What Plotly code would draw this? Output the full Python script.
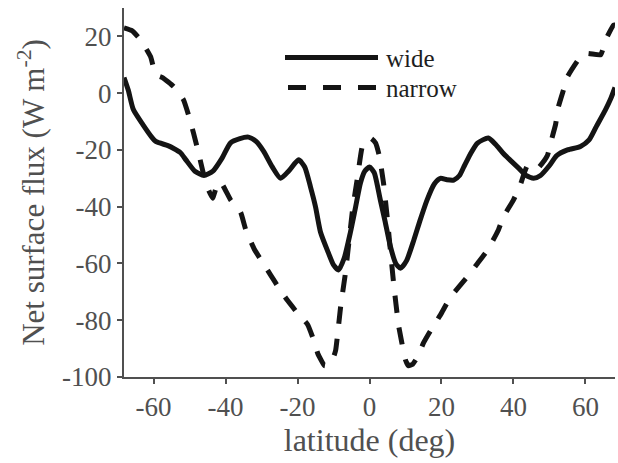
import plotly.graph_objects as go

# ---- data ----
wide_lat = [-68.2, -67, -65.6, -63, -60.5, -59.4, -56, -54.4, -52.5, -51, -48.5, -46, -43.5, -41,
            -38.6, -36, -33.6, -31.5, -29.4, -27, -24.7, -22.5, -19.7, -18, -16.4, -15, -13.6,
            -11.5, -10, -8.6, -7, -5.3, -4, -2.5, -1.3, 0, 1.3, 3, 4.3, 5.8, 7.3, 8.6, 10.3, 12.3,
            14, 16, 18, 19.7, 21.5, 23.4, 25, 26.2, 28, 30, 33, 35, 37, 39, 41.5, 43.5, 45.6, 47.5,
            50, 52, 55, 58.6, 61, 63, 65.5, 67, 68.2]
wide_val = [5.5, 1, -5.8, -11, -15.5, -17, -18.5, -19.5, -21, -23.5, -27.5, -29, -27.5, -23,
            -17.5, -16, -15.5, -17, -20.5, -26, -30, -27.5, -23.5, -26, -33, -40, -49,
            -56, -60.5, -62.3, -58, -49, -41, -31.6, -27.5, -26, -28, -37.6, -45, -54, -60, -61.7, -59, -51.8,
            -45, -37.6, -32, -30, -30.5, -30.6, -29, -26, -21.5, -17.6, -15.8, -18, -21, -23.5, -26.5, -29, -30, -29,
            -25.5, -22, -20, -18.8, -16.5, -11.8, -6, -2, 2]

narrow_lat = [-68.2, -66, -63.6, -60.8, -59.4, -57.5, -54.4, -51.7, -50.3, -48.9, -47.5, -46.4, -45.3,
              -43.6, -42.5, -41.4, -38.6, -35.8, -34.4, -32, -29.5, -27.5, -25, -22.8, -20, -17.2,
              -15.5, -14.4, -12.5, -11.5, -10, -9.4, -8, -6.7, -4.7, -3.3, -2, -0.6, 0.5, 1.7, 2.7,
              3.9, 4.9, 6.7, 8.1, 10, 10.8, 12, 13.3, 15, 17, 20, 22.5, 25, 27.2, 30, 32.8, 35.8,
              37.2, 40, 41.9, 43.9, 46.7, 49.4, 50.3, 51.7, 52.5, 53.9, 55, 58.6, 60.5, 64.2, 65.6,
              67.8, 68.2]
narrow_val = [23, 22, 18.8, 12.8, 6.5, 5.5, 2.3, -2.3, -7.6, -14, -21, -27, -32.3,
              -37, -33, -31.2, -37.6, -42, -48, -55, -60, -64, -69, -73, -77.5, -81.5,
              -87, -91.6, -96, -96, -93, -90.6, -75, -63.5, -41, -29.4, -18.8, -16.4, -16, -17.6, -22,
              -31.7, -43.5, -67, -82, -94, -96, -95.5, -93, -88, -83.6, -77.5, -71.8, -68, -64.7, -60, -55.3, -48.2,
              -43.6, -37.6, -32.3, -25.5, -26.5, -22, -17.6, -11, -4.7, 1.2, 5.8, 12.8, 14, 13.5, 18.8,
              24, 24]

series_names = ["wide", "narrow"]
x_ticks = [-60, -40, -20, 0, 20, 40, 60]
y_ticks = [-100, -80, -60, -40, -20, 0, 20]

LINE = "#141414"
AXIS = "#505050"
FONT = "Liberation Serif"

fig = go.Figure()
fig.add_trace(go.Scatter(x=wide_lat, y=wide_val, mode="lines", name=series_names[0],
                         line=dict(color=LINE, width=5, shape="spline", smoothing=0.6)))
fig.add_trace(go.Scatter(x=narrow_lat, y=narrow_val, mode="lines", name=series_names[1],
                         line=dict(color=LINE, width=5, dash="17px,15px", shape="spline", smoothing=0.4)))

# manual legend (long line samples, like the reference)
def px2paper_x(px):
    return (px - 124) / 491.0

def px2paper_y(py):
    return (377 - py) / 369.0

fig.add_shape(type="line", xref="paper", yref="paper",
              x0=px2paper_x(285), x1=px2paper_x(378), y0=px2paper_y(57.5), y1=px2paper_y(57.5),
              line=dict(color=LINE, width=5))
fig.add_shape(type="line", xref="paper", yref="paper",
              x0=px2paper_x(288), x1=px2paper_x(377), y0=px2paper_y(87.5), y1=px2paper_y(87.5),
              line=dict(color=LINE, width=5, dash="18px,17px"))
for name, py in zip(series_names, [57.5, 87.5]):
    fig.add_annotation(xref="paper", yref="paper", x=px2paper_x(384), y=px2paper_y(py + 1),
                       text=name, showarrow=False, xanchor="left", yanchor="middle",
                       font=dict(family=FONT, size=25, color="#1e1e1e"))

fig.update_layout(
    width=618, height=463,
    margin=dict(l=124, r=3, t=8, b=86),
    paper_bgcolor="white", plot_bgcolor="white",
    showlegend=False,
    font=dict(family=FONT, color=AXIS),
)
fig.update_xaxes(range=[-68.2, 68.2], tickvals=x_ticks, ticktext=[str(v) for v in x_ticks],
                 showgrid=False, zeroline=False, showline=True, linecolor=AXIS, linewidth=2,
                 ticks="outside", ticklen=5, tickwidth=2, tickcolor=AXIS,
                 tickfont=dict(family=FONT, size=27, color=AXIS),
                 title=dict(text="latitude (deg)", font=dict(family=FONT, size=32, color=AXIS), standoff=6))
fig.update_yaxes(range=[-100, 30], tickvals=y_ticks, ticktext=[str(v) for v in y_ticks],
                 showgrid=False, zeroline=False, showline=True, linecolor=AXIS, linewidth=2,
                 ticks="outside", ticklen=5, tickwidth=2, tickcolor=AXIS,
                 tickfont=dict(family=FONT, size=27, color=AXIS),
                 title=dict(text="Net surface flux (W m<sup>-2</sup>)", font=dict(family=FONT, size=31, color=AXIS), standoff=8))

fig.write_html("out.html")
